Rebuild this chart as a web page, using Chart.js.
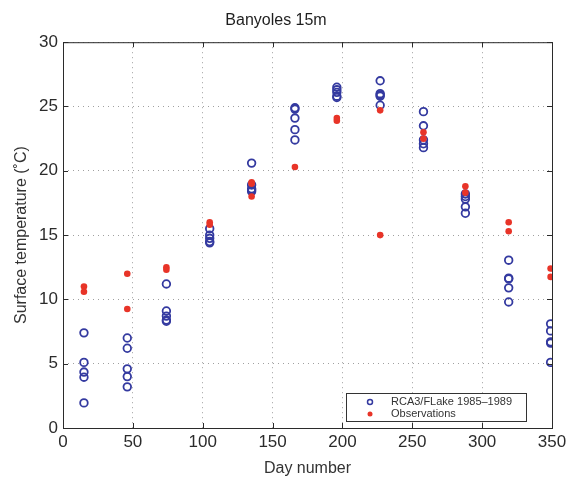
<!DOCTYPE html>
<html>
<head>
<meta charset="utf-8">
<script src="https://cdn.jsdelivr.net/npm/chart.js@4"></script>
<style>
  html, body { margin: 0; padding: 0; background: #ffffff; }
  #wrap { width: 571px; height: 478px; }
</style>
</head>
<body>
<div id="wrap"><canvas id="c" width="571" height="478"></canvas></div>
<script>
// Mid-month day numbers
const monthDays = [15, 46, 74, 105, 135, 166, 196, 227, 258, 288, 319, 349];

// RCA3/FLake simulated surface temperature, one value per year 1985-1989
const modelTemps = [
  [7.4, 5.1, 4.35, 3.95, 1.95],
  [7.0, 6.2, 4.6, 4.0, 3.2],
  [11.2, 9.1, 8.7, 8.4, 8.3],
  [15.5, 15.0, 14.75, 14.5, 14.4],
  [20.6, 18.9, 18.6, 18.5, 18.4],
  [24.9, 24.8, 24.1, 23.2, 22.4],
  [26.5, 26.3, 26.1, 25.8, 25.7],
  [27.0, 26.0, 25.9, 25.8, 25.1],
  [24.6, 23.5, 22.4, 22.1, 21.8],
  [18.2, 18.0, 17.8, 17.2, 16.7],
  [13.05, 11.65, 11.6, 10.9, 9.8],
  [8.1, 7.55, 6.7, 6.6, 5.1]
];

// Observed surface temperature
const obsTemps = [
  [11.0, 10.6],
  [12.0, 9.25],
  [12.5, 12.3],
  [16.0, 15.8],
  [19.1, 19.0, 18.0],
  [20.3],
  [24.1, 23.9],
  [24.7, 15.0],
  [23.0, 22.5],
  [18.8, 18.3],
  [16.0, 15.3],
  [12.4, 11.75]
];

const xTicks = [0, 50, 100, 150, 200, 250, 300, 350];
const yTicks = [0, 5, 10, 15, 20, 25, 30];

const seriesLabels = ['RCA3/FLake 1985\u20131989', 'Observations'];
const titleText = 'Banyoles 15m';
const xTitle = 'Day number';
const yTitle = 'Surface temperature (\u02DAC)';

const BLUE = 'rgb(52,58,160)';
const RED = 'rgb(232,52,40)';
const FONT = '"Liberation Sans", Arial, Helvetica, sans-serif';

function toPoints(days, groups) {
  const pts = [];
  groups.forEach((g, i) => g.forEach(v => pts.push({ x: days[i], y: v })));
  return pts;
}

// Frame, inward tick marks and y axis title, MATLAB style
const framePlugin = {
  id: 'frame',
  afterDraw(chart) {
    const { ctx, chartArea: a, scales } = chart;
    ctx.save();
    ctx.strokeStyle = '#2b2b2b';
    ctx.lineWidth = 1;
    ctx.strokeRect(a.left + 0.5, a.top + 0.5, a.right - a.left, a.bottom - a.top);
    const len = 5;
    ctx.beginPath();
    xTicks.forEach(t => {
      const px = Math.round(scales.x.getPixelForValue(t)) + 0.5;
      ctx.moveTo(px, a.bottom); ctx.lineTo(px, a.bottom - len);
      ctx.moveTo(px, a.top); ctx.lineTo(px, a.top + len);
    });
    yTicks.forEach(t => {
      const py = Math.round(scales.y.getPixelForValue(t)) + 0.5;
      ctx.moveTo(a.left, py); ctx.lineTo(a.left + len, py);
      ctx.moveTo(a.right, py); ctx.lineTo(a.right - len, py);
    });
    ctx.stroke();

    ctx.fillStyle = '#333';
    ctx.font = '16px ' + FONT;
    ctx.textAlign = 'center';
    ctx.textBaseline = 'middle';
    ctx.translate(22, (a.top + a.bottom) / 2);
    ctx.rotate(-Math.PI / 2);
    ctx.fillText(yTitle, 0, 0);
    ctx.restore();
  }
};

// Boxed legend in the lower right of the plot
const boxLegendPlugin = {
  id: 'boxLegend',
  afterDraw(chart) {
    const { ctx, chartArea: a } = chart;
    const w = 180, h = 28;
    const x0 = a.right - 26 - w, y0 = a.bottom - 7 - h;
    ctx.save();
    ctx.fillStyle = '#ffffff';
    ctx.fillRect(x0, y0, w, h);
    ctx.strokeStyle = '#333';
    ctx.lineWidth = 1;
    ctx.strokeRect(x0 + 0.5, y0 + 0.5, w, h);
    ctx.font = '11px ' + FONT;
    ctx.textBaseline = 'middle';
    ctx.textAlign = 'left';
    const rows = [y0 + 9, y0 + 21];
    ctx.beginPath();
    ctx.strokeStyle = BLUE; ctx.lineWidth = 1.5;
    ctx.arc(x0 + 24, rows[0], 2.5, 0, Math.PI * 2);
    ctx.stroke();
    ctx.beginPath();
    ctx.fillStyle = RED;
    ctx.arc(x0 + 24, rows[1], 2.5, 0, Math.PI * 2);
    ctx.fill();
    ctx.fillStyle = '#333';
    ctx.fillText(seriesLabels[0], x0 + 45, rows[0]);
    ctx.fillText(seriesLabels[1], x0 + 45, rows[1]);
    ctx.restore();
  }
};

const gridStyle = {
  color: 'rgba(120,120,120,0.7)',
  lineWidth: 1,
  drawTicks: false
};

new Chart(document.getElementById('c'), {
  type: 'scatter',
  data: {
    datasets: [
      {
        label: seriesLabels[0],
        data: toPoints(monthDays, modelTemps),
        order: 1,
        pointStyle: 'circle',
        pointRadius: 3.8,
        pointBorderWidth: 1.8,
        pointBackgroundColor: 'rgba(0,0,0,0)',
        pointBorderColor: BLUE
      },
      {
        label: seriesLabels[1],
        data: toPoints(monthDays, obsTemps),
        order: 0,
        pointStyle: 'circle',
        pointRadius: 3.3,
        pointBorderWidth: 0,
        pointBackgroundColor: RED,
        pointBorderColor: RED
      }
    ]
  },
  options: {
    responsive: false,
    animation: false,
    events: [],
    layout: { padding: { left: 0, right: 19, top: 0, bottom: 0 } },
    plugins: {
      legend: { display: false },
      tooltip: { enabled: false },
      title: {
        display: true,
        text: titleText,
        color: '#1e1e1e',
        font: { family: FONT, size: 16, weight: 'normal', lineHeight: 1.2 },
        padding: { top: 11, bottom: 12 }
      }
    },
    scales: {
      x: {
        type: 'linear',
        min: 0, max: 350,
        afterBuildTicks(scale) { scale.ticks = xTicks.map(v => ({ value: v })); },
        afterFit(scale) { scale.height = 50; },
        border: { display: false, dash: [1, 4] },
        grid: gridStyle,
        ticks: {
          color: '#2b2b2b',
          padding: 4,
          maxRotation: 0,
          font: { family: FONT, size: 17 }
        },
        title: {
          display: true,
          text: xTitle,
          color: '#333',
          font: { family: FONT, size: 16 },
          padding: { top: -4, bottom: 0 }
        }
      },
      y: {
        type: 'linear',
        min: 0, max: 30,
        afterBuildTicks(scale) { scale.ticks = yTicks.map(v => ({ value: v })); },
        afterFit(scale) { scale.width = 63; },
        border: { display: false, dash: [1, 4] },
        grid: gridStyle,
        ticks: {
          color: '#2b2b2b',
          padding: 5,
          font: { family: FONT, size: 17 }
        }
      }
    }
  },
  plugins: [framePlugin, boxLegendPlugin]
});
</script>
</body>
</html>
